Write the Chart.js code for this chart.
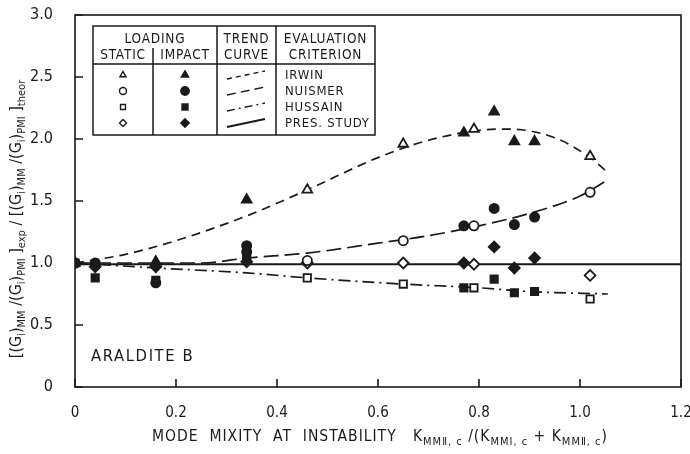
<!DOCTYPE html>
<html>
<head>
<meta charset="utf-8">
<script src="https://cdn.jsdelivr.net/npm/chart.js@4.4.1/dist/chart.umd.min.js"></script>
<style>
  body { margin: 0; background: #fff; }
  #c { display: block; }
</style>
</head>
<body>
<canvas id="c" width="690" height="454"></canvas>
<script>
// axis ticks
const xTicks = [0, 0.2, 0.4, 0.6, 0.8, 1.0, 1.2];
const yTicks = [0, 0.5, 1.0, 1.5, 2.0, 2.5, 3.0];

// Irwin - triangles
const triStaticX = [0.46, 0.65, 0.79, 1.02];
const triStaticY = [1.59, 1.96, 2.08, 1.86];
const triImpactX = [0, 0.16, 0.34, 0.77, 0.83, 0.87, 0.91];
const triImpactY = [1.0, 1.01, 1.51, 2.05, 2.22, 1.98, 1.98];

// Nuismer - circles
const circStaticX = [0.46, 0.65, 0.79, 1.02];
const circStaticY = [1.02, 1.18, 1.30, 1.57];
const circImpactX = [0, 0.04, 0.16, 0.34, 0.34, 0.77, 0.83, 0.87, 0.91];
const circImpactY = [1.0, 1.0, 0.84, 1.14, 1.09, 1.30, 1.44, 1.31, 1.37];

// Hussain - squares
const sqStaticX = [0.46, 0.65, 0.79, 1.02];
const sqStaticY = [0.88, 0.83, 0.80, 0.71];
const sqImpactX = [0, 0.04, 0.16, 0.34, 0.77, 0.83, 0.87, 0.91];
const sqImpactY = [1.0, 0.88, 0.86, 1.05, 0.80, 0.87, 0.76, 0.77];

// present study - diamonds
const diaStaticX = [0.46, 0.65, 0.79, 1.02];
const diaStaticY = [1.0, 1.0, 0.99, 0.90];
const diaImpactX = [0, 0.04, 0.16, 0.34, 0.77, 0.83, 0.87, 0.91];
const diaImpactY = [1.0, 0.97, 0.97, 1.01, 1.0, 1.13, 0.96, 1.04];

// trend curves
const irwinX = [0, 0.1, 0.2, 0.34, 0.46, 0.6, 0.7, 0.8, 0.86, 0.95, 1.02, 1.055];
const irwinY = [1.0, 1.07, 1.18, 1.38, 1.59, 1.85, 1.99, 2.07, 2.08, 2.01, 1.85, 1.73];
const nuismerX = [0, 0.25, 0.34, 0.46, 0.6, 0.7, 0.8, 0.9, 1.0, 1.055];
const nuismerY = [1.0, 1.0, 1.04, 1.08, 1.16, 1.22, 1.30, 1.40, 1.54, 1.67];
const hussainX = [0, 0.16, 0.34, 0.46, 0.65, 0.8, 0.9, 1.055];
const hussainY = [1.0, 0.96, 0.92, 0.88, 0.83, 0.80, 0.77, 0.75];
const presX = [0, 1.2];
const presY = [0.99, 0.99];

const INK = '#1a1a1a';
const FONT = "'DejaVu Sans Condensed', 'DejaVu Sans', sans-serif";

function pts(xs, ys) {
  return xs.map((x, i) => ({ x: x, y: ys[i] }));
}

const sizes = { triangle: 5.6, circle: 4.6, rect: 5.2, rectRot: 5.4 };

function marker(xs, ys, style, filled) {
  return {
    data: pts(xs, ys),
    showLine: false,
    pointStyle: style,
    pointRadius: sizes[style],
    pointBorderWidth: 1.8,
    pointBorderColor: INK,
    pointBackgroundColor: filled ? INK : '#fff',
    order: 0
  };
}

function curve(xs, ys, dash, width) {
  return {
    data: pts(xs, ys),
    showLine: true,
    borderColor: INK,
    borderWidth: width,
    borderDash: dash,
    pointRadius: 0,
    cubicInterpolationMode: 'monotone',
    order: 1
  };
}

// draws text with subscripts, segments = [[text, isSub], ...]
function drawRich(ctx, segs, x, y, size) {
  const subSize = Math.round(size * 0.68);
  let total = 0;
  segs.forEach(s => {
    ctx.font = (s[1] ? subSize : size) + 'px ' + FONT;
    total += ctx.measureText(s[0]).width;
  });
  let cx = x - total / 2;
  ctx.textAlign = 'left';
  ctx.textBaseline = 'middle';
  segs.forEach(s => {
    ctx.font = (s[1] ? subSize : size) + 'px ' + FONT;
    ctx.fillText(s[0], cx, s[1] ? y + size * 0.32 : y);
    cx += ctx.measureText(s[0]).width;
  });
}

const decor = {
  id: 'decor',
  afterDraw(chart) {
    const ctx = chart.ctx;
    const a = chart.chartArea;
    const xs = chart.scales.x, ys = chart.scales.y;
    ctx.save();
    ctx.strokeStyle = INK;
    ctx.fillStyle = INK;
    ctx.lineWidth = 1.6;
    ctx.strokeRect(a.left, a.top, a.right - a.left, a.bottom - a.top);

    // inward tick marks
    ctx.beginPath();
    yTicks.forEach(v => {
      const p = ys.getPixelForValue(v);
      ctx.moveTo(a.left, p); ctx.lineTo(a.left + 8, p);
    });
    xTicks.forEach(v => {
      const p = xs.getPixelForValue(v);
      ctx.moveTo(p, a.bottom); ctx.lineTo(p, a.bottom - 8);
    });
    ctx.stroke();

    // axis titles
    ctx.save();
    ctx.translate(17, 219);
    ctx.rotate(-Math.PI / 2);
    drawRich(ctx, [
      ['[(G', 0], ['i', 1], [')', 0], ['MM', 1], [' /(G', 0], ['i', 1], [')', 0], ['PMI', 1], [' ]', 0], ['exp', 1],
      [' / [(G', 0], ['i', 1], [')', 0], ['MM', 1], [' /(G', 0], ['i', 1], [')', 0], ['PMI', 1], [' ]', 0], ['theor', 1]
    ], 0, 0, 16);
    ctx.restore();

    ctx.letterSpacing = '1px';
    drawRich(ctx, [
      ['MODE  MIXITY  AT  INSTABILITY   K', 0], ['MMⅡ, c', 1], [' /(K', 0], ['MMⅠ, c', 1],
      [' + K', 0], ['MMⅡ, c', 1], [')', 0]
    ], 380, 437, 15.5);
    ctx.letterSpacing = '0px';

    ctx.font = '16.5px ' + FONT;
    ctx.textAlign = 'left';
    ctx.textBaseline = 'middle';
    ctx.letterSpacing = '1.6px';
    ctx.fillText('ARALDITE B', 91, 357);
    ctx.letterSpacing = '0px';

    // legend table
    const L = 93, R = 375, T = 26, B = 135, H = 64;
    const c1 = 153, c2 = 217, c3 = 276;
    ctx.lineWidth = 1.5;
    ctx.fillStyle = '#fff';
    ctx.fillRect(L, T, R - L, B - T);
    ctx.fillStyle = INK;
    ctx.strokeRect(L, T, R - L, B - T);
    ctx.beginPath();
    ctx.moveTo(L, H); ctx.lineTo(R, H);
    ctx.moveTo(c1, 48); ctx.lineTo(c1, B);
    ctx.moveTo(c2, T); ctx.lineTo(c2, B);
    ctx.moveTo(c3, T); ctx.lineTo(c3, B);
    ctx.stroke();

    ctx.font = '13.5px ' + FONT;
    ctx.textAlign = 'center';
    ctx.textBaseline = 'middle';
    ctx.letterSpacing = '0.8px';
    ctx.fillText('LOADING', (L + c2) / 2, 39);
    ctx.fillText('STATIC', (L + c1) / 2, 55);
    ctx.fillText('IMPACT', (c1 + c2) / 2, 55);
    ctx.fillText('TREND', (c2 + c3) / 2, 39);
    ctx.fillText('CURVE', (c2 + c3) / 2, 55);
    ctx.fillText('EVALUATION', (c3 + R) / 2, 39);
    ctx.fillText('CRITERION', (c3 + R) / 2, 55);

    const rows = [
      ['triangle', 'IRWIN', [5, 4]],
      ['circle', 'NUISMER', [9, 5]],
      ['rect', 'HUSSAIN', [8, 4, 2, 4]],
      ['rectRot', 'PRES. STUDY', []]
    ];
    ctx.font = '13px ' + FONT;
    ctx.textAlign = 'left';
    rows.forEach((r, i) => {
      const y = 75 + i * 16;
      ctx.lineWidth = 1.4;
      ctx.fillStyle = '#fff';
      Chart.helpers.drawPoint(ctx, { pointStyle: r[0], radius: 3.5, borderWidth: 1.4 }, (L + c1) / 2, y);
      ctx.fillStyle = INK;
      Chart.helpers.drawPoint(ctx, { pointStyle: r[0], radius: 4.2, borderWidth: 1.4 }, (c1 + c2) / 2, y);
      ctx.setLineDash(r[2]);
      ctx.lineWidth = r[2].length ? 1.4 : 2.2;
      ctx.beginPath();
      ctx.moveTo(c2 + 10, y + 4); ctx.lineTo(c3 - 11, y - 4);
      ctx.stroke();
      ctx.setLineDash([]);
      ctx.fillText(r[1], c3 + 9, y + 1);
    });
    ctx.letterSpacing = '0px';
    ctx.restore();
  }
};

new Chart(document.getElementById('c'), {
  type: 'scatter',
  data: {
    datasets: [
      marker(triStaticX, triStaticY, 'triangle', false),
      marker(triImpactX, triImpactY, 'triangle', true),
      marker(circStaticX, circStaticY, 'circle', false),
      marker(circImpactX, circImpactY, 'circle', true),
      marker(sqStaticX, sqStaticY, 'rect', false),
      marker(sqImpactX, sqImpactY, 'rect', true),
      marker(diaStaticX, diaStaticY, 'rectRot', false),
      marker(diaImpactX, diaImpactY, 'rectRot', true),
      curve(irwinX, irwinY, [9, 6], 1.7),
      curve(nuismerX, nuismerY, [15, 6], 1.7),
      curve(hussainX, hussainY, [12, 5, 2, 5], 1.7),
      curve(presX, presY, [], 2)
    ]
  },
  options: {
    responsive: false,
    animation: false,
    layout: { padding: { top: 15, right: 9, left: 0, bottom: 0 } },
    plugins: { legend: { display: false }, tooltip: { enabled: false } },
    scales: {
      x: {
        type: 'linear',
        min: 0, max: 1.2,
        afterBuildTicks: s => { s.ticks = xTicks.map(v => ({ value: v })); },
        afterFit: s => { s.height = 67; s.paddingLeft = 0; s.paddingRight = 0; },
        grid: { display: false },
        border: { display: false },
        ticks: {
          color: INK,
          font: { family: FONT, size: 15 },
          padding: 9,
          callback: v => v === 0 ? '0' : v.toFixed(1)
        }
      },
      y: {
        type: 'linear',
        min: 0, max: 3.0,
        afterBuildTicks: s => { s.ticks = yTicks.map(v => ({ value: v })); },
        afterFit: s => { s.width = 75; s.paddingTop = 0; s.paddingBottom = 0; },
        grid: { display: false },
        border: { display: false },
        ticks: {
          color: INK,
          font: { family: FONT, size: 16 },
          padding: 14,
          callback: v => v === 0 ? '0' : v.toFixed(1)
        }
      }
    }
  },
  plugins: [decor]
});
</script>
</body>
</html>
